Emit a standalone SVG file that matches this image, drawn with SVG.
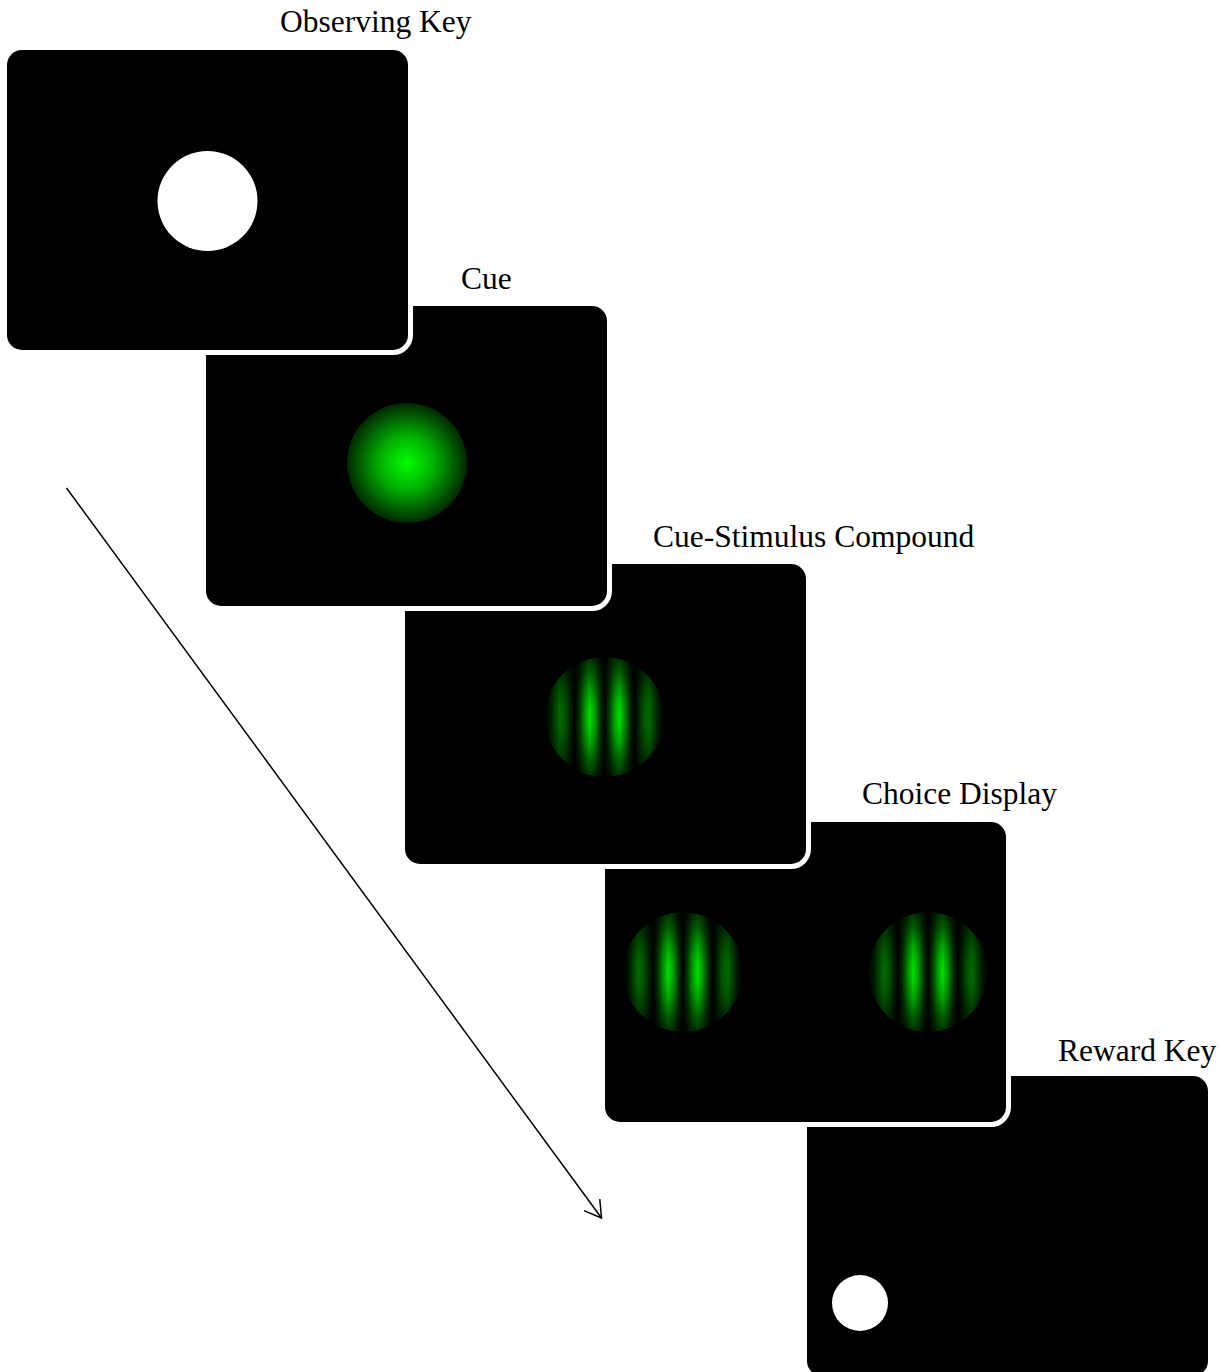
<svg xmlns="http://www.w3.org/2000/svg" width="1222" height="1372" viewBox="0 0 1222 1372">
<style>
.panel{fill:#000;stroke:#fff;stroke-width:10;paint-order:stroke}
.label{font-family:"Liberation Serif","Times New Roman",serif;font-size:31.5px;fill:#000}
.key{fill:#fff}
.conn{stroke:#000;stroke-width:1.5;fill:none}
</style>
<defs>
<radialGradient id="cueGrad" cx="0" cy="0" r="60" gradientUnits="userSpaceOnUse">
<stop offset="0" stop-color="#00ff00"/>
<stop offset="0.45" stop-color="#00b000"/>
<stop offset="1" stop-color="#002800"/>
</radialGradient>
<linearGradient id="stripes" x1="-30" y1="0" x2="0" y2="0" gradientUnits="userSpaceOnUse" spreadMethod="repeat">
<stop offset="0" stop-color="#000"/>
<stop offset="0.16" stop-color="#004000"/>
<stop offset="0.33" stop-color="#00a800"/>
<stop offset="0.5" stop-color="#00f000"/>
<stop offset="0.67" stop-color="#00a800"/>
<stop offset="0.84" stop-color="#004000"/>
<stop offset="1" stop-color="#000"/>
</linearGradient>
<radialGradient id="envGrad" cx="0" cy="0" r="60" gradientUnits="userSpaceOnUse">
<stop offset="0" stop-color="#fff" stop-opacity="1"/>
<stop offset="0.25" stop-color="#fff" stop-opacity="0.92"/>
<stop offset="0.5" stop-color="#fff" stop-opacity="0.7"/>
<stop offset="0.75" stop-color="#fff" stop-opacity="0.44"/>
<stop offset="1" stop-color="#fff" stop-opacity="0.22"/>
</radialGradient>
<mask id="envMask" maskUnits="userSpaceOnUse" x="-70" y="-70" width="140" height="140">
<circle r="60" fill="url(#envGrad)"/>
</mask>
<marker id="arrow" markerUnits="userSpaceOnUse" markerWidth="22" markerHeight="24" viewBox="-19 -12 22 24" refX="0" refY="0" orient="auto">
<path d="M-16.3,-9.8 L0,0 L-16.3,9.8" fill="none" stroke="#000" stroke-width="1.5"/>
</marker>
</defs>

<g id="reward-key">
<rect class="panel" x="807" y="1076" width="401" height="300" rx="15"/>
<circle class="key" cx="860" cy="1303" r="28"/>
<text class="label" x="1058" y="1061">Reward Key</text>
</g>

<g id="choice-display">
<rect class="panel" x="605" y="822" width="401" height="300" rx="15"/>
<g transform="translate(683,972)"><circle r="60" fill="url(#stripes)" mask="url(#envMask)"/></g>
<g transform="translate(928,972)"><circle r="60" fill="url(#stripes)" mask="url(#envMask)"/></g>
<text class="label" x="862" y="804">Choice Display</text>
</g>

<g id="cue-stimulus-compound">
<rect class="panel" x="405" y="564" width="401" height="300" rx="15"/>
<g transform="translate(604.5,717)"><circle r="60" fill="url(#stripes)" mask="url(#envMask)"/></g>
<text class="label" x="653" y="547">Cue-Stimulus Compound</text>
</g>

<g id="cue">
<rect class="panel" x="206" y="306" width="401" height="300" rx="15"/>
<g transform="translate(407,463)"><circle r="60" fill="url(#cueGrad)"/></g>
<text class="label" x="461" y="289">Cue</text>
</g>

<g id="observing-key">
<rect class="panel" x="7" y="50" width="401" height="300" rx="15"/>
<circle class="key" cx="207.5" cy="201" r="50"/>
<text class="label" x="280" y="32">Observing Key</text>
</g>

<g id="connectors">
<line class="conn" x1="66.5" y1="488" x2="601.5" y2="1218" marker-end="url(#arrow)"/>
</g>
</svg>
